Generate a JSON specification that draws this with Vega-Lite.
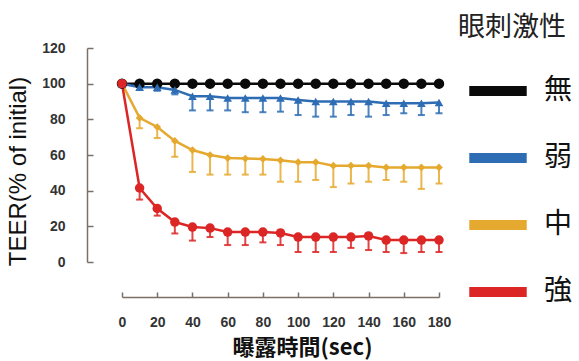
{
  "$schema": "https://vega.github.io/schema/vega-lite/v6.json",
  "width": 317,
  "height": 214,
  "autosize": "none",
  "padding": {"left": 122, "top": 48, "right": 140, "bottom": 99},
  "background": "white",
  "config": {"view": {"stroke": null}, "font": "Liberation Sans"},
  "data": {"values": [
    {"t":0,"g":"無","v":100},{"t":10,"g":"無","v":100},{"t":20,"g":"無","v":100},{"t":30,"g":"無","v":100},{"t":40,"g":"無","v":100},{"t":50,"g":"無","v":100},{"t":60,"g":"無","v":100},{"t":70,"g":"無","v":100},{"t":80,"g":"無","v":100},{"t":90,"g":"無","v":100},{"t":100,"g":"無","v":100},{"t":110,"g":"無","v":100},{"t":120,"g":"無","v":100},{"t":130,"g":"無","v":100},{"t":140,"g":"無","v":100},{"t":150,"g":"無","v":100},{"t":160,"g":"無","v":100},{"t":170,"g":"無","v":100},{"t":180,"g":"無","v":100},
    {"t":0,"g":"弱","v":100},{"t":10,"g":"弱","v":98,"lo":96.5},{"t":20,"g":"弱","v":98,"lo":96},{"t":30,"g":"弱","v":96.5,"lo":94},{"t":40,"g":"弱","v":93,"lo":85},{"t":50,"g":"弱","v":93,"lo":85},{"t":60,"g":"弱","v":92,"lo":85},{"t":70,"g":"弱","v":92,"lo":84},{"t":80,"g":"弱","v":92,"lo":84},{"t":90,"g":"弱","v":92,"lo":84.3},{"t":100,"g":"弱","v":90.9,"lo":82.4},{"t":110,"g":"弱","v":90,"lo":81.5},{"t":120,"g":"弱","v":90,"lo":81.5},{"t":130,"g":"弱","v":90,"lo":82.4},{"t":140,"g":"弱","v":90,"lo":81.5},{"t":150,"g":"弱","v":89,"lo":82.4},{"t":160,"g":"弱","v":89,"lo":83.4},{"t":170,"g":"弱","v":89,"lo":82.4},{"t":180,"g":"弱","v":89.5,"lo":83.4},
    {"t":0,"g":"中","v":100},{"t":10,"g":"中","v":80.8,"lo":75},{"t":20,"g":"中","v":75.7,"lo":69.5},{"t":30,"g":"中","v":67.9,"lo":59},{"t":40,"g":"中","v":62.8,"lo":50.5},{"t":50,"g":"中","v":60,"lo":49},{"t":60,"g":"中","v":58.3,"lo":49},{"t":70,"g":"中","v":58,"lo":49},{"t":80,"g":"中","v":57.8,"lo":49},{"t":90,"g":"中","v":57,"lo":45},{"t":100,"g":"中","v":56,"lo":45},{"t":110,"g":"中","v":56,"lo":46},{"t":120,"g":"中","v":54,"lo":42},{"t":130,"g":"中","v":54,"lo":44},{"t":140,"g":"中","v":54,"lo":45},{"t":150,"g":"中","v":53,"lo":46},{"t":160,"g":"中","v":53,"lo":45},{"t":170,"g":"中","v":53,"lo":41},{"t":180,"g":"中","v":53,"lo":44},
    {"t":0,"g":"強","v":100},{"t":10,"g":"強","v":41.5,"lo":35},{"t":20,"g":"強","v":30,"lo":26},{"t":30,"g":"強","v":22.4,"lo":16},{"t":40,"g":"強","v":19.6,"lo":12},{"t":50,"g":"強","v":19,"lo":14},{"t":60,"g":"強","v":16.8,"lo":9.5},{"t":70,"g":"強","v":16.8,"lo":9.5},{"t":80,"g":"強","v":16.8,"lo":11},{"t":90,"g":"強","v":16.3,"lo":9.5},{"t":100,"g":"強","v":14,"lo":5.6},{"t":110,"g":"強","v":14,"lo":5.6},{"t":120,"g":"強","v":14,"lo":5.6},{"t":130,"g":"強","v":14,"lo":7.9},{"t":140,"g":"強","v":14.6,"lo":6.7},{"t":150,"g":"強","v":12.3,"lo":5.6},{"t":160,"g":"強","v":12.3,"lo":5},{"t":170,"g":"強","v":12.3,"lo":5.6},{"t":180,"g":"強","v":12.3,"lo":5.6}
  ]},
  "encoding": {
    "x": {"field": "t", "type": "quantitative", "scale": {"domain": [0, 180], "nice": false},
      "axis": {"offset": 35, "values": [0,20,40,60,80,100,120,140,160,180], "tickSize": -5, "labelPadding": 23, "grid": false, "labelOverlap": false,
        "domainColor": "#7a7068", "tickColor": "#7a7068", "domainWidth": 1.5, "tickWidth": 1.5,
        "labelFontSize": 14, "labelFontWeight": "bold", "labelColor": "#333", "labelFlush": false,
        "title": "曝露時間(sec)", "titleFont": "Noto Sans CJK JP", "titleFontSize": 22, "titleFontWeight": "bold", "titleColor": "#111",
        "titleX": 180, "titleY": 40}},
    "y": {"field": "v", "type": "quantitative", "scale": {"domain": [0, 120], "nice": false},
      "axis": {"offset": 35, "values": [0,20,40,60,80,100,120], "tickSize": -6, "labelPadding": 28, "grid": false, "labelOverlap": false,
        "domainColor": "#7a7068", "tickColor": "#7a7068", "domainWidth": 1.5, "tickWidth": 1.5,
        "labelFontSize": 14, "labelFontWeight": "bold", "labelColor": "#333",
        "title": "TEER(% of initial)", "titleFontSize": 24, "titleFontWeight": "normal", "titleColor": "#111",
        "titleX": -57, "titleY": 123}}
  },
  "layer": [
    {"mark": {"type": "line", "strokeWidth": 2.5},
      "encoding": {
        "color": {"field": "g", "type": "nominal",
          "scale": {"domain": ["無", "弱", "中", "強"], "range": ["#0a0a0a", "#2e6db4", "#e6a92f", "#dc2626"]},
          "legend": {"orient": "none", "legendX": 336, "legendY": -33, "title": "眼刺激性",
            "titleFont": "Noto Sans CJK JP", "titleFontSize": 27, "titleFontWeight": "normal", "titleColor": "#222", "titlePadding": 15,
            "symbolType": "stroke", "symbolSize": 3300, "symbolStrokeWidth": 10, "symbolOffset": 6, "symbolOpacity": 1,
            "labelOffset": 12, "labelFont": "Noto Sans CJK JP", "labelFontSize": 28, "labelColor": "#111", "rowPadding": 13}}}},
    {"transform": [{"filter": "datum.lo != null"}],
      "mark": {"type": "rule", "strokeWidth": 2, "opacity": 0.85},
      "encoding": {"y2": {"field": "lo"},
        "stroke": {"field": "g", "type": "nominal", "scale": {"domain": ["無", "弱", "中", "強"], "range": ["#0a0a0a", "#2e6db4", "#e6a92f", "#dc2626"]}, "legend": null}}},
    {"transform": [{"filter": "datum.lo != null"}],
      "mark": {"type": "tick", "orient": "horizontal", "size": 7, "thickness": 2, "opacity": 0.85},
      "encoding": {
        "y": {"field": "lo", "type": "quantitative",
          "axis": {"offset": 35, "values": [0,20,40,60,80,100,120], "tickSize": -6, "labelPadding": 28, "grid": false, "labelOverlap": false,
            "domainColor": "#7a7068", "tickColor": "#7a7068", "domainWidth": 1.5, "tickWidth": 1.5,
            "labelFontSize": 14, "labelFontWeight": "bold", "labelColor": "#333",
            "title": "TEER(% of initial)", "titleFontSize": 24, "titleFontWeight": "normal", "titleColor": "#111",
            "titleX": -57, "titleY": 123}},
        "fill": {"field": "g", "type": "nominal", "scale": {"domain": ["無", "弱", "中", "強"], "range": ["#0a0a0a", "#2e6db4", "#e6a92f", "#dc2626"]}, "legend": null}}},
    {"transform": [{"filter": "datum.g == '無'"}],
      "mark": {"type": "point", "filled": true, "opacity": 1, "shape": "circle", "size": 110, "color": "#0a0a0a"}},
    {"transform": [{"filter": "datum.g == '弱'"}],
      "mark": {"type": "point", "filled": true, "opacity": 1, "shape": "triangle-up", "size": 75, "color": "#2e6db4"}},
    {"transform": [{"filter": "datum.g == '中'"}],
      "mark": {"type": "point", "filled": true, "opacity": 1, "shape": "diamond", "size": 60, "color": "#e6a92f"}},
    {"transform": [{"filter": "datum.g == '強'"}],
      "mark": {"type": "point", "filled": true, "opacity": 1, "shape": "circle", "size": 90, "color": "#dc2626"}}
  ]
}
